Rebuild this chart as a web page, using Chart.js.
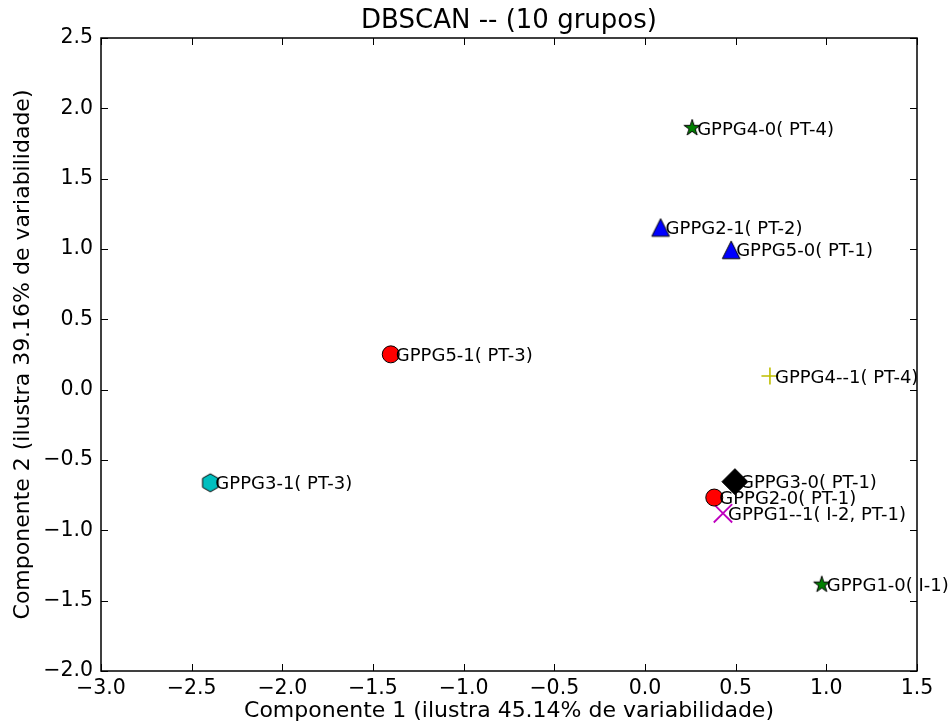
<!DOCTYPE html>
<html><head><meta charset="utf-8">
<script src="https://cdn.jsdelivr.net/npm/chart.js@4.4.0/dist/chart.umd.min.js"></script>
<style>html,body{margin:0;padding:0;background:#fff;}</style>
</head><body>
<canvas id="c" width="950" height="724"></canvas>
<script>
// ---- data ----
const pointNames = ["GPPG4-0( PT-4)", "GPPG2-1( PT-2)", "GPPG5-0( PT-1)", "GPPG5-1( PT-3)", "GPPG4--1( PT-4)",
                    "GPPG3-1( PT-3)", "GPPG3-0( PT-1)", "GPPG2-0( PT-1)", "GPPG1--1( I-2, PT-1)", "GPPG1-0( I-1)"];
const xValues = [0.26, 0.086, 0.475, -1.402, 0.689, -2.397, 0.496, 0.382, 0.430, 0.975];
const yValues = [1.86, 1.153, 0.994, 0.251, 0.097, -0.662, -0.654, -0.767, -0.879, -1.386];
const markerKinds = ["star", "triangle", "triangle", "circle", "plus", "hexagon", "diamond", "circle", "x", "star"];
const markerColors = ["#008000", "#0000ff", "#0000ff", "#ff0000", "#bfbf00", "#00bfbf", "#000000", "#ff0000", "#bf00bf", "#008000"];
const xTicks = [-3.0, -2.5, -2.0, -1.5, -1.0, -0.5, 0.0, 0.5, 1.0, 1.5];
const yTicks = [-2.0, -1.5, -1.0, -0.5, 0.0, 0.5, 1.0, 1.5, 2.0, 2.5];
const chartTitle = "DBSCAN -- (10 grupos)";
const xTitle = "Componente 1 (ilustra 45.14% de variabilidade)";
const yTitle = "Componente 2 (ilustra 39.16% de variabilidade)";

const FONT = "'DejaVu Sans', sans-serif";
const LABEL_SIZE = 18;

function makeCanvas(size, drawFn) {
  const c = document.createElement('canvas');
  c.width = size; c.height = size;
  const ctx = c.getContext('2d');
  drawFn(ctx, size / 2);
  return c;
}
function starImg(color) {
  return makeCanvas(22, (ctx, c) => {
    const R = 8.6, r = R * 0.381966;
    ctx.beginPath();
    for (let i = 0; i < 10; i++) {
      const rad = (i % 2 === 0) ? R : r;
      const a = -Math.PI / 2 + i * Math.PI / 5;
      const px = c + rad * Math.cos(a), py = c + rad * Math.sin(a);
      if (i === 0) ctx.moveTo(px, py); else ctx.lineTo(px, py);
    }
    ctx.closePath();
    ctx.fillStyle = color; ctx.fill();
    ctx.lineWidth = 1; ctx.strokeStyle = '#000'; ctx.stroke();
  });
}
function hexImg(color) {
  return makeCanvas(24, (ctx, c) => {
    const R = 9;
    ctx.beginPath();
    for (let i = 0; i < 6; i++) {
      const a = -Math.PI / 2 + i * Math.PI / 3;
      const px = c + R * Math.cos(a), py = c + R * Math.sin(a);
      if (i === 0) ctx.moveTo(px, py); else ctx.lineTo(px, py);
    }
    ctx.closePath();
    ctx.fillStyle = color; ctx.fill();
    ctx.lineWidth = 1; ctx.strokeStyle = '#000'; ctx.stroke();
  });
}
function triImg(color) {
  return makeCanvas(24, (ctx, c) => {
    const h = 8.8;
    ctx.beginPath();
    ctx.moveTo(c, c - h); ctx.lineTo(c - h, c + h); ctx.lineTo(c + h, c + h);
    ctx.closePath();
    ctx.fillStyle = color; ctx.fill();
    ctx.lineWidth = 1; ctx.strokeStyle = '#000'; ctx.stroke();
  });
}

function datasetFor(i) {
  const kind = markerKinds[i], col = markerColors[i];
  const ds = { label: pointNames[i], data: [{ x: xValues[i], y: yValues[i] }], pointBorderColor: '#000', pointBorderWidth: 1, pointBackgroundColor: col, pointRadius: 9 };
  if (kind === 'star') ds.pointStyle = starImg(col);
  else if (kind === 'hexagon') ds.pointStyle = hexImg(col);
  else if (kind === 'triangle') ds.pointStyle = triImg(col);
  else if (kind === 'circle') { ds.pointStyle = 'circle'; ds.pointRadius = 8.5; }
  else if (kind === 'diamond') { ds.pointStyle = 'rectRot'; ds.pointRadius = 13; }
  else if (kind === 'plus') { ds.pointStyle = 'cross'; ds.pointRadius = 8.5; ds.pointBorderColor = col; ds.pointBorderWidth = 1.6; }
  else if (kind === 'x') { ds.pointStyle = 'crossRot'; ds.pointRadius = 13; ds.pointBorderColor = col; ds.pointBorderWidth = 1.8; }
  return ds;
}
const datasets = pointNames.map((_, i) => datasetFor(i));

const fmt = v => (Math.round(v * 10) / 10).toFixed(1).replace('-', '\u2212');

const decor = {
  id: 'decor',
  afterDatasetsDraw(chart) {
    const ctx = chart.ctx;
    ctx.save();
    ctx.font = LABEL_SIZE + "px " + FONT;
    ctx.fillStyle = '#000';
    ctx.textAlign = 'left';
    ctx.textBaseline = 'alphabetic';
    chart.data.datasets.forEach((ds, i) => {
      const el = chart.getDatasetMeta(i).data[0];
      ctx.fillText(ds.label, el.x + 5, el.y + 0.3645 * LABEL_SIZE);
    });
    ctx.restore();
  },
  afterDraw(chart) {
    const ctx = chart.ctx, a = chart.chartArea;
    const xs = chart.scales.x, ys = chart.scales.y;
    ctx.save();
    ctx.strokeStyle = '#000';
    ctx.lineWidth = 1;
    const tl = 7;
    ctx.beginPath();
    xTicks.forEach(v => {
      const px = Math.round(xs.getPixelForValue(v)) + 0.5;
      ctx.moveTo(px, a.bottom); ctx.lineTo(px, a.bottom - tl);
      ctx.moveTo(px, a.top); ctx.lineTo(px, a.top + tl);
    });
    yTicks.forEach(v => {
      const py = Math.round(ys.getPixelForValue(v)) + 0.5;
      ctx.moveTo(a.left, py); ctx.lineTo(a.left + tl, py);
      ctx.moveTo(a.right, py); ctx.lineTo(a.right - tl, py);
    });
    ctx.stroke();
    ctx.lineWidth = 1.5;
    ctx.strokeRect(a.left, a.top, a.right - a.left, a.bottom - a.top);
    ctx.font = "26px " + FONT;
    ctx.fillStyle = '#000';
    ctx.textAlign = 'center';
    ctx.textBaseline = 'alphabetic';
    ctx.fillText(chartTitle, (a.left + a.right) / 2, 28);
    ctx.restore();
  }
};

new Chart(document.getElementById('c'), {
  type: 'scatter',
  data: { datasets },
  plugins: [decor],
  options: {
    responsive: false,
    animation: false,
    devicePixelRatio: 1,
    layout: { padding: { left: 0, right: 33, top: 38, bottom: 0 } },
    plugins: { legend: { display: false }, title: { display: false }, tooltip: { enabled: false } },
    scales: {
      x: {
        type: 'linear', min: -3, max: 1.5,
        afterBuildTicks: s => { s.ticks = xTicks.map(v => ({ value: v })); },
        afterFit: s => { s.height = 53; },
        ticks: { callback: v => fmt(v), font: { family: FONT, size: 20.5 }, color: '#000', padding: 5, maxRotation: 0, autoSkip: false },
        grid: { display: false, drawTicks: false },
        border: { display: false },
        title: { display: true, text: xTitle, font: { family: FONT, size: 22 }, color: '#000', padding: { top: 0, bottom: 0 } }
      },
      y: {
        type: 'linear', min: -2, max: 2.5,
        afterBuildTicks: s => { s.ticks = yTicks.map(v => ({ value: v })); },
        afterFit: s => { s.width = 101; },
        ticks: { callback: v => fmt(v), font: { family: FONT, size: 20.5 }, color: '#000', padding: 8, autoSkip: false },
        grid: { display: false, drawTicks: false },
        border: { display: false },
        title: { display: true, text: yTitle, font: { family: FONT, size: 22 }, color: '#000', padding: { top: 10, bottom: 0 } }
      }
    }
  }
});
</script>
</body></html>
